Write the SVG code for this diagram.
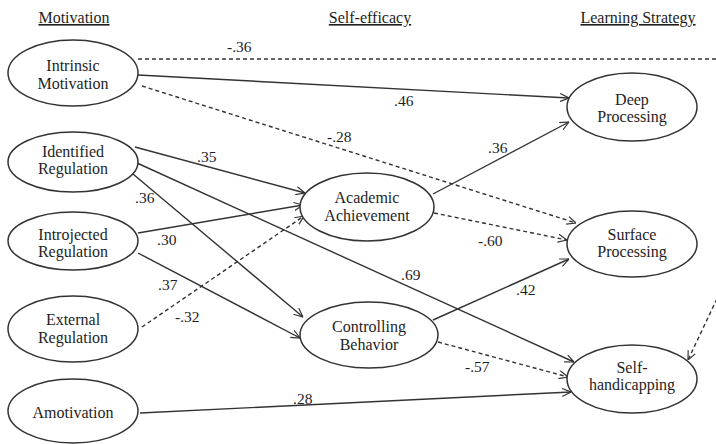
<svg xmlns="http://www.w3.org/2000/svg" width="716" height="444" viewBox="0 0 716 444" font-family="Liberation Serif, Times New Roman, serif">
<style>
text{font-size:16px;fill:#1e1e1e}
.n text{text-anchor:middle}
.n ellipse{fill:#fff;stroke:#333;stroke-width:1.5}
.h{text-anchor:middle;text-decoration:underline}
.c path{fill:none;stroke:#333;stroke-width:1.4;marker-end:url(#ar)}
.c path.d{stroke-dasharray:4,3}
.lb text{font-size:15.5px}
</style>
<defs>
<marker id="ar" viewBox="0 0 10 10" refX="10" refY="5" markerWidth="9" markerHeight="9" markerUnits="userSpaceOnUse" orient="auto">
<path d="M0,0.5 L10,5 L0,9.5" fill="none" stroke="#333" stroke-width="1.3"/>
</marker>
</defs>
<rect width="716" height="444" fill="#fff"/>
<g id="headers">
<text class="h" x="74" y="23">Motivation</text>
<text class="h" x="370" y="23">Self-efficacy</text>
<text class="h" x="638" y="23">Learning Strategy</text>
</g>
<g class="c" id="connectors">
<path class="d" d="M138,59 L740,59 L740,250 L688,360"/>
<path d="M138,75 L569,98"/>
<path class="d" d="M142,86 L576,223"/>
<path d="M135,147 L305,193"/>
<path d="M137,163 L574,362"/>
<path d="M133,174 L303,317"/>
<path d="M138,233 L303,205"/>
<path d="M138,253 L300,338"/>
<path class="d" d="M142,327 L304,216"/>
<path d="M140,413 L571,392"/>
<path d="M433,194 L569,122"/>
<path class="d" d="M434,213 L567,240"/>
<path d="M433,320 L569,259"/>
<path class="d" d="M438,342 L568,377"/>
</g>
<g class="lb" id="labels">
<text x="227" y="52">-.36</text>
<text x="394" y="106">.46</text>
<text x="327" y="142">-.28</text>
<text x="197" y="162">.35</text>
<text x="135" y="203">.36</text>
<text x="157" y="245">.30</text>
<text x="158" y="290">.37</text>
<text x="175" y="322">-.32</text>
<text x="293" y="404">.28</text>
<text x="488" y="153">.36</text>
<text x="478" y="246">-.60</text>
<text x="401" y="280">.69</text>
<text x="516" y="295">.42</text>
<text x="465" y="372">-.57</text>
</g>
<g class="n" id="intrinsic"><ellipse cx="73" cy="73" rx="65" ry="33"/><text x="73" y="71">Intrinsic</text><text x="73" y="89">Motivation</text></g>
<g class="n" id="identified"><ellipse cx="73" cy="162" rx="65" ry="30"/><text x="73" y="157">Identified</text><text x="73" y="174">Regulation</text></g>
<g class="n" id="introjected"><ellipse cx="73" cy="241" rx="65" ry="29"/><text x="73" y="240">Introjected</text><text x="73" y="257">Regulation</text></g>
<g class="n" id="external"><ellipse cx="73" cy="329" rx="65" ry="33"/><text x="73" y="325">External</text><text x="73" y="343">Regulation</text></g>
<g class="n" id="amotivation"><ellipse cx="73" cy="411" rx="65" ry="32"/><text x="73" y="418">Amotivation</text></g>
<g class="n" id="academic"><ellipse cx="367" cy="207" rx="67" ry="34"/><text x="367" y="203">Academic</text><text x="367" y="221">Achievement</text></g>
<g class="n" id="controlling"><ellipse cx="369" cy="335" rx="69" ry="33"/><text x="369" y="332">Controlling</text><text x="369" y="350">Behavior</text></g>
<g class="n" id="deep"><ellipse cx="632" cy="107" rx="65" ry="34"/><text x="632" y="105">Deep</text><text x="632" y="122">Processing</text></g>
<g class="n" id="surface"><ellipse cx="632" cy="244" rx="65" ry="33"/><text x="632" y="240">Surface</text><text x="632" y="257">Processing</text></g>
<g class="n" id="selfhandicapping"><ellipse cx="632" cy="379" rx="65" ry="34"/><text x="632" y="373">Self-</text><text x="632" y="390">handicapping</text></g>
</svg>
